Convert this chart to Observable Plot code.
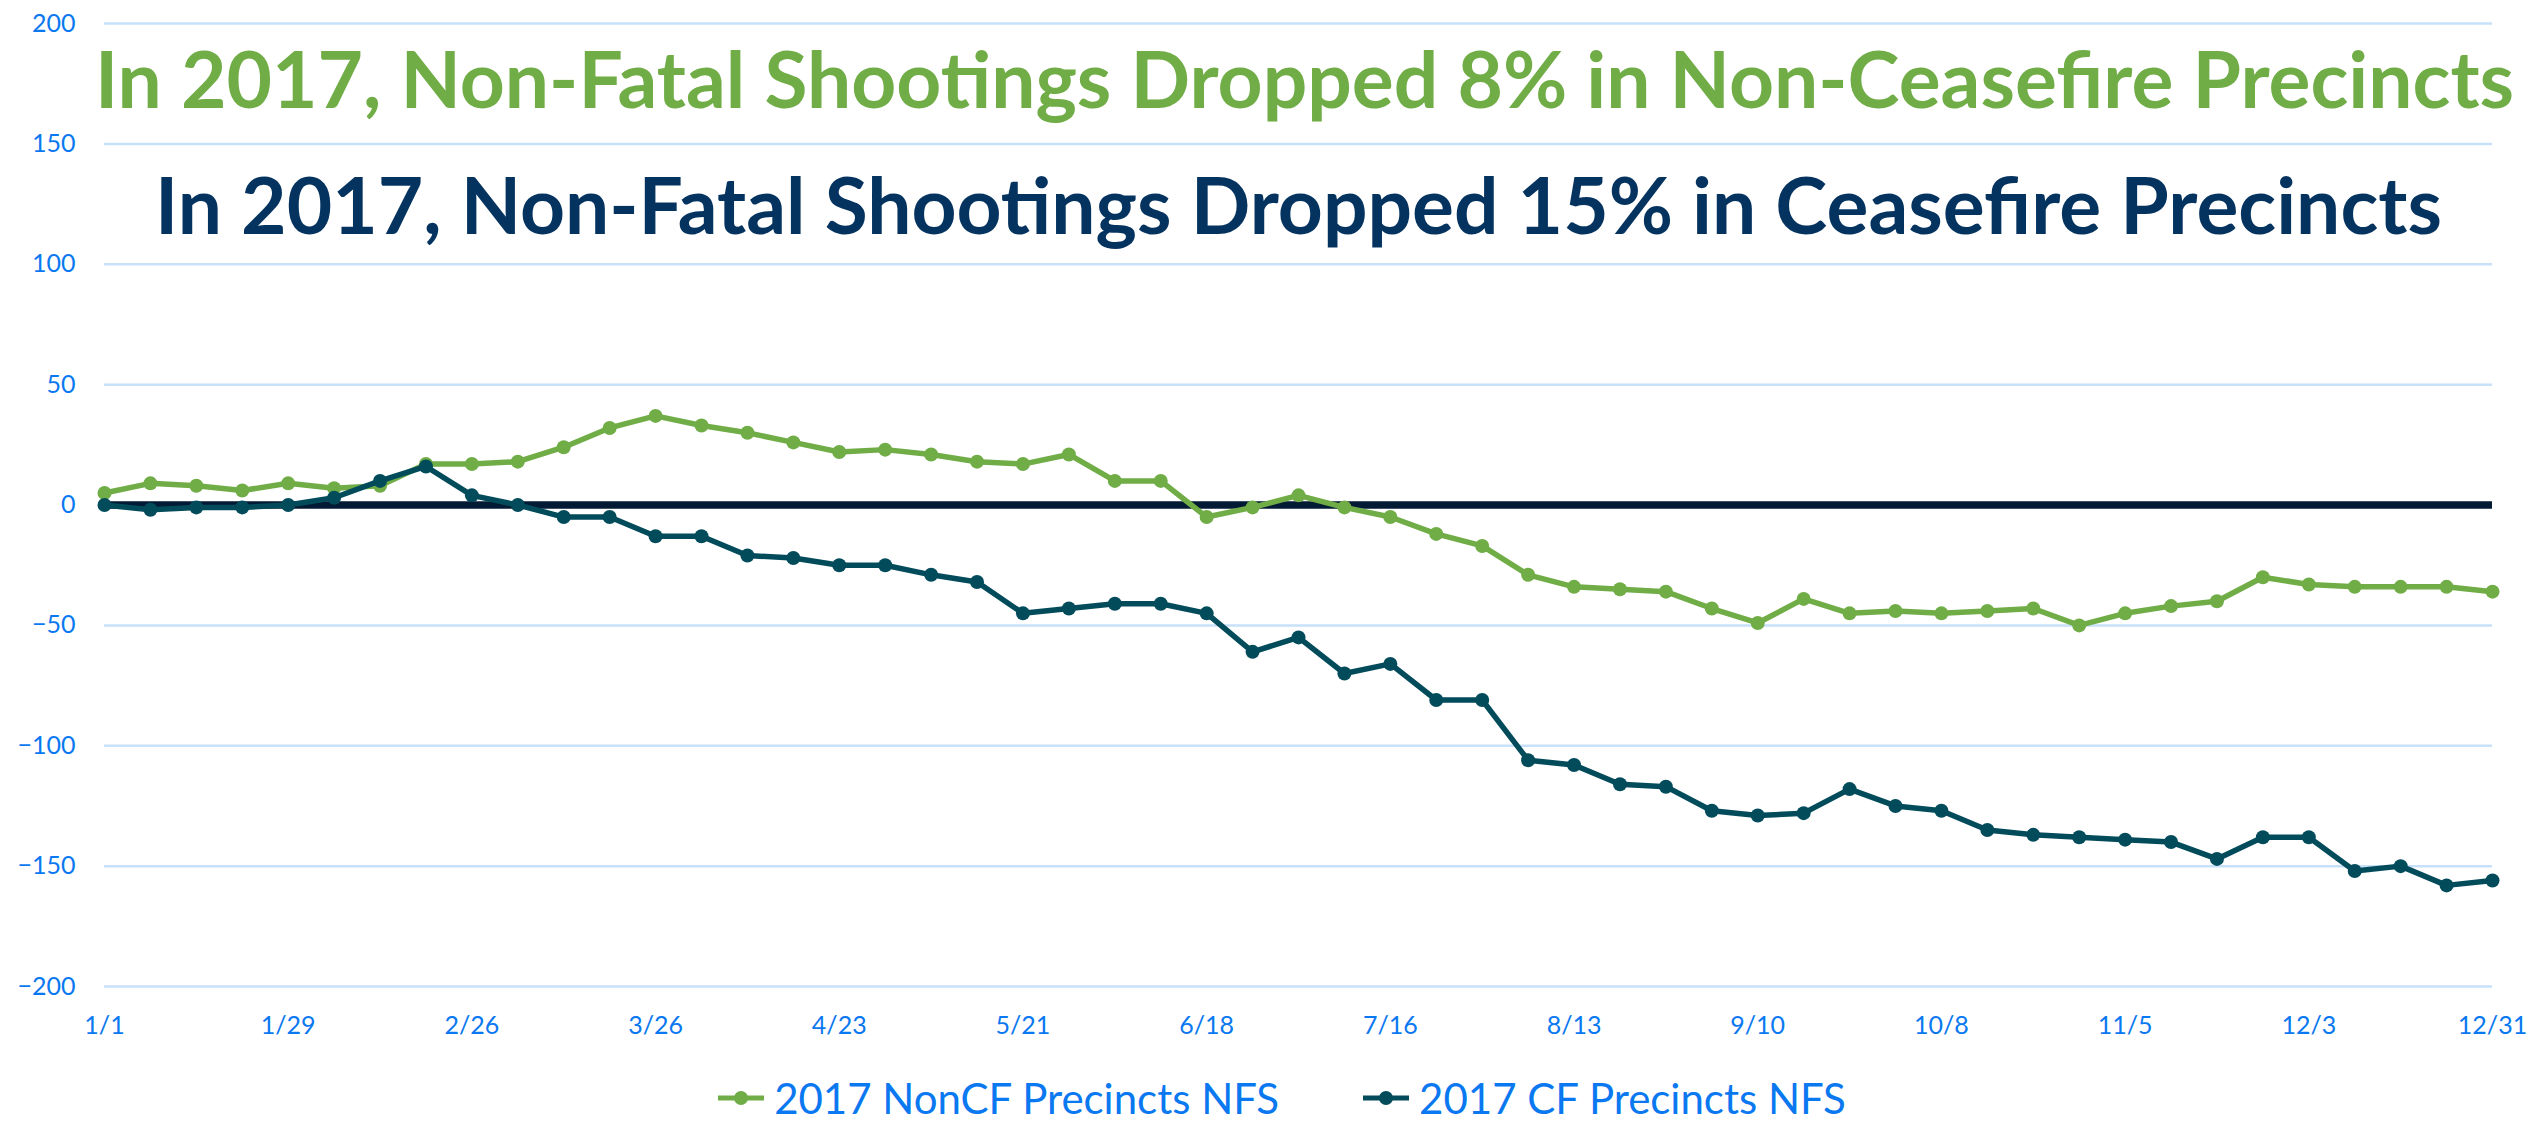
<!DOCTYPE html>
<html>
<head>
<meta charset="utf-8">
<script src="https://cdn.jsdelivr.net/npm/d3@7"></script>
<script src="https://cdn.jsdelivr.net/npm/@observablehq/plot@0.6"></script>
<style>
  html, body { margin: 0; padding: 0; background: #fff; }
  #chart svg { display: block; }
  #legend { display: flex; justify-content: center; align-items: center; gap: 84px;
    font-family: Lato, sans-serif; font-size: 42px; color: #0a78f0; margin-top: 28px; padding-left: 22px; }
  .item { display: flex; align-items: center; gap: 10px; }
</style>
</head>
<body>
<div id="chart"></div>
<div id="legend"></div>
<script>
const weeks = ["1/1","1/8","1/15","1/22","1/29","2/5","2/12","2/19","2/26","3/5","3/12","3/19","3/26","4/2","4/9","4/16","4/23","4/30","5/7","5/14","5/21","5/28","6/4","6/11","6/18","6/25","7/2","7/9","7/16","7/23","7/30","8/6","8/13","8/20","8/27","9/3","9/10","9/17","9/24","10/1","10/8","10/15","10/22","10/29","11/5","11/12","11/19","11/26","12/3","12/10","12/17","12/24","12/31"];
const tickLabels = ["1/1","1/29","2/26","3/26","4/23","5/21","6/18","7/16","8/13","9/10","10/8","11/5","12/3","12/31"];
const yTicks = [-200,-150,-100,-50,0,50,100,150,200];
const seriesNames = ["2017 NonCF Precincts NFS", "2017 CF Precincts NFS"];
const seriesColors = ["#70ad47", "#024b5b"];
const nonCF = [5,9,8,6,9,7,8,17,17,18,24,32,37,33,30,26,22,23,21,18,17,21,10,10,-5,-1,4,-1,-5,-12,-17,-29,-34,-35,-36,-43,-49,-39,-45,-44,-45,-44,-43,-50,-45,-42,-40,-30,-33,-34,-34,-34,-36];
const cf = [0,-2,-1,-1,0,3,10,16,4,0,-5,-5,-13,-13,-21,-22,-25,-25,-29,-32,-45,-43,-41,-41,-45,-61,-55,-70,-66,-81,-81,-106,-108,-116,-117,-127,-129,-128,-118,-125,-127,-135,-137,-138,-139,-140,-147,-138,-138,-152,-150,-158,-156];
const titles = ["In 2017, Non-Fatal Shootings Dropped 8% in Non-Ceasefire Precincts", "In 2017, Non-Fatal Shootings Dropped 15% in Ceasefire Precincts"];
const titleColors = ["#70ad47", "#05335f"];

const dataNon = weeks.map((w, i) => ({week: w, value: nonCF[i]}));
const dataCF = weeks.map((w, i) => ({week: w, value: cf[i]}));

const chart = Plot.plot({
  width: 2542,
  height: 1045,
  marginTop: 23,
  marginBottom: 59,
  marginLeft: 104,
  marginRight: 50,
  style: {fontFamily: "Lato, sans-serif", background: "#fff"},
  x: {type: "point", domain: weeks, padding: 0},
  y: {domain: [-200, 200]},
  marks: [
    Plot.gridY(yTicks, {stroke: "#c8e1fa", strokeOpacity: 1, strokeWidth: 2.5}),
    Plot.axisY(yTicks, {tickSize: 0, tickPadding: 29, fontSize: 25, color: "#0a78f0", label: null}),
    Plot.axisX(tickLabels, {tickSize: 0, tickPadding: 30, fontSize: 25, color: "#0a78f0", label: null}),
    Plot.ruleY([0], {stroke: "#021a33", strokeWidth: 7.5}),
    Plot.line(dataNon, {x: "week", y: "value", stroke: seriesColors[0], strokeWidth: 5.5}),
    Plot.dot(dataNon, {x: "week", y: "value", fill: seriesColors[0], r: 7}),
    Plot.line(dataCF, {x: "week", y: "value", stroke: seriesColors[1], strokeWidth: 5.5}),
    Plot.dot(dataCF, {x: "week", y: "value", fill: seriesColors[1], r: 7}),
    Plot.text([titles[0]], {frameAnchor: "top", lineAnchor: "bottom", dy: 84, dx: 6, fontSize: 78.5, fontWeight: "bold", fill: titleColors[0], text: d => d}),
    Plot.text([titles[1]], {frameAnchor: "top", lineAnchor: "bottom", dy: 210, fontSize: 78.5, fontWeight: "bold", fill: titleColors[1], text: d => d})
  ]
});
document.getElementById("chart").appendChild(chart);

const legend = document.getElementById("legend");
seriesNames.forEach((name, i) => {
  const item = document.createElement("div");
  item.className = "item";
  item.innerHTML = `<svg width="46" height="20"><line x1="0" y1="10" x2="46" y2="10" stroke="${seriesColors[i]}" stroke-width="5"/><circle cx="23" cy="10" r="7" fill="${seriesColors[i]}"/></svg><span>${name}</span>`;
  legend.appendChild(item);
});
</script>
</body>
</html>
